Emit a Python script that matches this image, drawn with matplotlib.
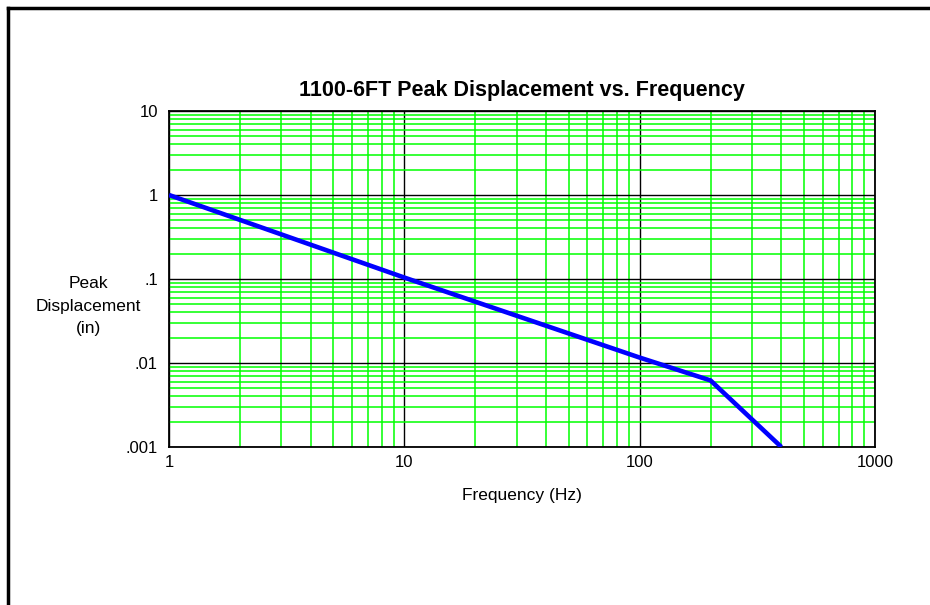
import numpy as np
import matplotlib
matplotlib.use('Agg')
import matplotlib.pyplot as plt
from matplotlib.lines import Line2D
from matplotlib.ticker import FixedLocator, LogLocator, NullFormatter

plt.rcParams['font.family'] = ['Liberation Sans', 'DejaVu Sans']

# curve
freq = [1, 10, 100, 200, 400]
disp = [1.0, 0.104, 0.0116, 0.0062, 0.001]

xticks = [1, 10, 100, 1000]
xtick_labels = ['1', '10', '100', '1000']
yticks = [0.001, 0.01, 0.1, 1, 10]
ytick_labels = ['.001', '.01', '.1', '1', '10']

fig = plt.figure(figsize=(9.3, 6.05), dpi=100)
ax = fig.add_axes([169/930, 1-447/605, (875-169)/930, (447-111)/605])

ax.set_xscale('log')
ax.set_yscale('log')
ax.set_xlim(1, 1000)
ax.set_ylim(0.001, 10)

ax.xaxis.set_major_locator(FixedLocator(xticks))
ax.yaxis.set_major_locator(FixedLocator(yticks))
ax.set_xticklabels(xtick_labels)
ax.set_yticklabels(ytick_labels)
ax.xaxis.set_minor_locator(LogLocator(base=10, subs=np.arange(2, 10)))
ax.yaxis.set_minor_locator(LogLocator(base=10, subs=np.arange(2, 10)))
ax.xaxis.set_minor_formatter(NullFormatter())
ax.yaxis.set_minor_formatter(NullFormatter())

ax.grid(which='minor', color='#00ff00', linewidth=1.1)
ax.grid(which='major', color='black', linewidth=1.0)
ax.set_axisbelow(True)
ax.tick_params(which='both', length=0, labelsize=12)
ax.tick_params(axis='x', pad=6)
ax.tick_params(axis='y', pad=8)
for s in ax.spines.values():
    s.set_linewidth(1.3)

ax.plot(freq, disp, color='#0000ff', linewidth=3.3, solid_capstyle='butt', zorder=5)

ax.set_title('1100-6FT Peak Displacement vs. Frequency', fontsize=15.5, fontweight='bold', pad=11)
ax.set_xlabel('Frequency (Hz)', fontsize=12.5, labelpad=13)
fig.text(88/930, 1-306/605, 'Peak\nDisplacement\n(in)', fontsize=12.5, ha='center', va='center',
         linespacing=1.65)

# frame on the top and left edges
fig.add_artist(Line2D([7.5/930, 7.5/930], [0, 1-7.5/605], color='black', linewidth=2.5,
                      transform=fig.transFigure))
fig.add_artist(Line2D([7.5/930, 1], [1-7.5/605, 1-7.5/605], color='black', linewidth=2.5,
                      transform=fig.transFigure))

fig.savefig('out.png', dpi=100)
